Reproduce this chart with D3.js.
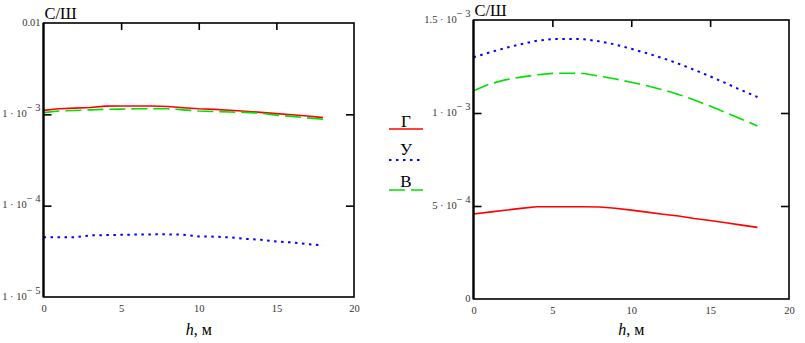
<!DOCTYPE html>
<html><head><meta charset="utf-8">
<script src="https://cdn.jsdelivr.net/npm/d3@7"></script>
<style>body{margin:0;background:#fff}svg{display:block}</style>
</head><body>
<svg id="c" width="805" height="343"></svg>
<script>
const h = [0,1,2,3,4,5,6,7,8,9,10,11,12,13,14,15,16,17,18];
// Left chart (log scale)
const leftG = [1.106e-3,1.15e-3,1.17e-3,1.19e-3,1.23e-3,1.235e-3,1.236e-3,1.236e-3,1.22e-3,1.18e-3,1.15e-3,1.134e-3,1.11e-3,1.08e-3,1.05e-3,1.018e-3,0.99e-3,0.96e-3,0.92e-3];
const leftU = [4.50e-5,4.50e-5,4.50e-5,4.73e-5,4.76e-5,4.80e-5,4.83e-5,4.85e-5,4.85e-5,4.81e-5,4.61e-5,4.58e-5,4.50e-5,4.32e-5,4.24e-5,4.06e-5,3.96e-5,3.80e-5,3.67e-5];
const leftV = [1.044e-3,1.089e-3,1.10e-3,1.12e-3,1.134e-3,1.14e-3,1.15e-3,1.154e-3,1.15e-3,1.12e-3,1.089e-3,1.075e-3,1.062e-3,1.05e-3,1.03e-3,0.98e-3,0.95e-3,0.915e-3,0.882e-3];
// Right chart (linear scale)
const rightG = [4.57e-4,4.67e-4,4.77e-4,4.87e-4,4.96e-4,4.96e-4,4.96e-4,4.96e-4,4.95e-4,4.88e-4,4.78e-4,4.67e-4,4.56e-4,4.46e-4,4.33e-4,4.22e-4,4.10e-4,3.97e-4,3.85e-4];
const rightU = [1.30e-3,1.325e-3,1.349e-3,1.37e-3,1.388e-3,1.397e-3,1.398e-3,1.397e-3,1.385e-3,1.368e-3,1.345e-3,1.321e-3,1.295e-3,1.265e-3,1.232e-3,1.197e-3,1.16e-3,1.122e-3,1.086e-3];
const rightV = [1.12e-3,1.155e-3,1.178e-3,1.193e-3,1.205e-3,1.213e-3,1.214e-3,1.212e-3,1.198e-3,1.183e-3,1.165e-3,1.147e-3,1.125e-3,1.10e-3,1.07e-3,1.037e-3,1.002e-3,0.966e-3,0.930e-3];

const xTicks = [0,5,10,15,20];
const leftYTicks = [1e-5,1e-4,1e-3,1e-2];
const leftYLabels = [["1 · 10","− 5"],["1 · 10","− 4"],["1 · 10","− 3"],["0.01",""]];
const rightYTicks = [0,5e-4,1e-3,1.5e-3];
const rightYLabels = [["0",""],["5 · 10","− 4"],["1 · 10","− 3"],["1.5 · 10","− 3"]];
const legendNames = ["Г","У","В"];
const yTitle = "С/Ш";

const styles = [
  {color:"#ff0000", dash:null, w:1.6},
  {color:"#0000ff", dash:"2.5,4.5", w:2},
  {color:"#00e000", dash:"16,6", w:1.6}
];
const FONT = "'Liberation Serif','Times New Roman',serif";
const svg = d3.select("#c");

function panel(opts){
  const {x, y, series, yTickVals, yTickLabs, interiorY} = opts;
  const g = svg.append("g");
  const [x0,x1] = x.range(); const [y0,y1] = y.range();
  const line = d3.line().x((d,i)=>x(h[i])).y(d=>y(d));
  series.forEach((s,k)=>{
    g.append("path").datum(s).attr("d",line).attr("fill","none")
      .attr("stroke",styles[k].color).attr("stroke-width",styles[k].w)
      .attr("stroke-dasharray",styles[k].dash);
  });
  g.append("rect").attr("x",x0).attr("y",y1).attr("width",x1-x0).attr("height",y0-y1)
    .attr("fill","none").attr("stroke","#000").attr("stroke-width",1.6);
  g.append("line").attr("x1",x0).attr("x2",x0).attr("y1",y1).attr("y2",y0).attr("stroke","#000").attr("stroke-width",2.2);
  g.append("g").attr("transform",`translate(0,${y1})`).call(d3.axisTop(x).tickValues([5,10,15]).tickSize(-7).tickFormat(""));
  g.append("g").attr("transform",`translate(${x0},0)`).call(d3.axisLeft(y).tickValues(interiorY).tickSize(-8).tickFormat(""));
  g.append("g").attr("transform",`translate(${x1},0)`).call(d3.axisRight(y).tickValues(interiorY).tickSize(-8).tickFormat(""));
  g.selectAll(".domain").remove();
  g.selectAll(".tick line").attr("stroke","#000").attr("stroke-width",1.6);
  const xa = g.append("g").attr("transform",`translate(0,${y0})`)
    .call(d3.axisBottom(x).tickValues(xTicks).tickSize(0).tickPadding(8).tickFormat(d3.format("d")));
  xa.select(".domain").remove();
  xa.selectAll("text").attr("font-family",FONT).attr("font-size",10.5).attr("fill","#333");
  const ya = g.append("g").attr("transform",`translate(${x0},0)`)
    .call(d3.axisLeft(y).tickValues(yTickVals).tickSize(0).tickPadding(3).tickFormat(""));
  ya.select(".domain").remove();
  ya.selectAll(".tick text").each(function(d,i){
    const t = d3.select(this).attr("font-family",FONT).attr("font-size",10.5).attr("fill","#333").attr("dy","0.2em");
    const lab = yTickLabs[i];
    t.append("tspan").text(lab[0]);
    if(lab[1]) t.append("tspan").attr("dy","-0.55em").text(lab[1]);
  });
  g.append("text").attr("x",x0+1).attr("y",y1-4).attr("font-family",FONT).attr("font-size",16.5).text(yTitle);
  const xt = g.append("text").attr("x",(x0+x1)/2).attr("y",335).attr("text-anchor","middle")
    .attr("font-family",FONT).attr("font-size",16);
  xt.append("tspan").attr("font-style","italic").text("h");
  xt.append("tspan").text(", м");
}

const xL = d3.scaleLinear().domain([0,20]).range([43.5,354]);
const yL = d3.scaleLog().domain([1e-5,1e-2]).range([297,23]);
panel({x:xL, y:yL, series:[leftG,leftU,leftV], yTickVals:leftYTicks, yTickLabs:leftYLabels, interiorY:[1e-4,1e-3]});

const xR = d3.scaleLinear().domain([0,20]).range([473.5,789]);
const yR = d3.scaleLinear().domain([0,1.5e-3]).range([299,20]);
panel({x:xR, y:yR, series:[rightG,rightU,rightV], yTickVals:rightYTicks, yTickLabs:rightYLabels, interiorY:[5e-4,1e-3]});

const lg = svg.append("g");
const ly = [127, 155, 187];
const lineY = [129, 160, 190];
legendNames.forEach((n,k)=>{
  lg.append("text").attr("x",406).attr("y",ly[k]).attr("text-anchor","middle")
    .attr("font-family",FONT).attr("font-size",17).text(n);
  lg.append("line").attr("x1",389).attr("x2",423).attr("y1",lineY[k]).attr("y2",lineY[k])
    .attr("stroke",styles[k].color).attr("stroke-width",styles[k].w)
    .attr("stroke-dasharray",styles[k].dash);
});
</script>
</body></html>
